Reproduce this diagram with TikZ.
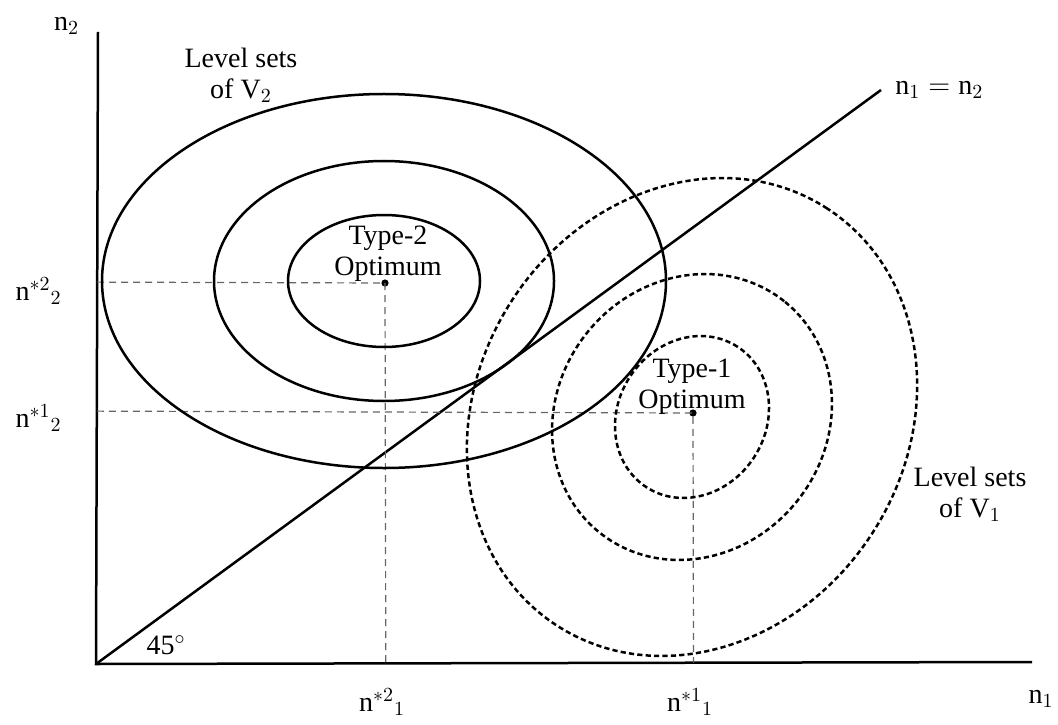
\documentclass[tikz,border=0pt]{standalone}
\usepackage{fontspec}
\setmainfont{Liberation Serif}
\usetikzlibrary{calc, positioning}

\begin{document}
\begin{tikzpicture}[
        x=5pt, y=5pt,
        font=\fontsize{14}{15.5}\selectfont,
        axis/.style={line width=1.25pt},
        level/.style={line width=1.25pt},
        dlevel/.style={line width=1.25pt, dash pattern=on 2.6pt off 1.6pt},
        guide/.style={black!60, line width=0.6pt, dash pattern=on 3.5pt off 2.5pt},
        dot/.style={circle, fill, inner sep=0pt, minimum size=3.6pt},
        lbl/.style={align=center, inner sep=0pt}
    ]
    \useasboundingbox (0,0) rectangle (105.8,72.4);
    % axes and the diagonal
    \coordinate (O) at (9.6,6.0);
    \coordinate (ytop) at (9.8,69.2);
    \coordinate (xend) at (103.2,6.2);
    \coordinate (diag) at (88.1,63.4);
    \draw[axis] (ytop) -- (O) -- (xend);
    \draw[axis] (O) -- (diag);
    % the two optima
    \node[dot] (opt2) at (38.5,44.1) {};
    \node[dot] (opt1) at (69.3,31.1) {};
    \draw[guide] ($(O)!(opt2)!(ytop)$) -- (opt2.center) -- ($(O)!(opt2)!(xend)$);
    \draw[guide] ($(O)!(opt1)!(ytop)$) -- (opt1.center) -- ($(O)!(opt1)!(xend)$);
    % level sets of V2
    \draw[level] (38.4,44.3) ellipse [x radius=28.2, y radius=18.7];
    \draw[level] (38.4,44.3) ellipse [x radius=17.0, y radius=12.0];
    \draw[level] (38.4,44.3) ellipse [x radius=9.6, y radius=6.6];
    % level sets of V1
    \draw[dlevel] (69.2,30.7) ellipse [x radius=24.85, y radius=21.45, rotate=57];
    \draw[dlevel] (69.2,30.7) ellipse [x radius=14.8, y radius=13.46, rotate=51.5];
    \draw[dlevel] (69.2,30.7) ellipse [x radius=8.37, y radius=7.4, rotate=57];
    % labels
    \node[lbl] (n2) at (6.65,69.8) {$\mathrm{n}_2$};
    \node[lbl] (n1) at (104.1,2.5) {$\mathrm{n}_1$};
    \node[lbl, right=7pt of diag] (eq) {$\mathrm{n}_1 = \mathrm{n}_2$};
    \node[lbl] (deg) at (16.6,7.9) {45$^\circ$};
    \node[lbl] (v2) at (24.1,64.9) {Level sets\\of V$_2$};
    \node[lbl] (v1) at (97.0,23.0) {Level sets\\of V$_1$};
    \node[lbl] (t2) at (38.8,47.0) {Type-2\\Optimum};
    \node[lbl] (t1) at (69.2,33.7) {Type-1\\Optimum};
    \node[lbl] (n21) at (38.2,2.2) {$\mathrm{n}^{*2}{}_1$};
    \node[lbl] (n11) at (69.0,2.2) {$\mathrm{n}^{*1}{}_1$};
    \node[lbl, anchor=east] (n22) at (6.2,43.3) {$\mathrm{n}^{*2}{}_2$};
    \node[lbl, anchor=east] (n12) at (6.2,30.6) {$\mathrm{n}^{*1}{}_2$};
\end{tikzpicture}
\end{document}
